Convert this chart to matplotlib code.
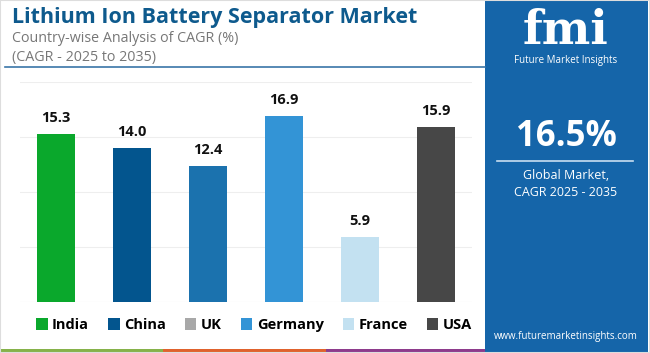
import matplotlib.pyplot as plt
from matplotlib.patches import Rectangle, Patch
from matplotlib.lines import Line2D

countries = ["India", "China", "UK", "Germany", "France", "USA"]
cagr = [15.3, 14.0, 12.4, 16.9, 5.9, 15.9]
bar_colors = ["#0aa82c", "#03558e", "#1b72ae", "#3394d6", "#c3e1f1", "#474747"]
legend_colors = ["#0aa82c", "#03558e", "#a8a8a8", "#3394d6", "#c3e1f1", "#474747"]

W, H = 650, 353
fig = plt.figure(figsize=(W / 100, H / 100), dpi=100)
plt.rcParams['font.family'] = ['Open Sans', 'DejaVu Sans']


def fx(x):
    return x / W


def fy(y):
    return 1 - y / H


# bar chart area
ax = fig.add_axes([fx(20), fy(302), fx(452), (302 - 82) / H])
ax.bar(range(len(cagr)), cagr, width=0.5, color=bar_colors, zorder=3)
for i, v in enumerate(cagr):
    ax.text(i, v + 0.8, f"{v:.1f}", ha="center", va="bottom",
            fontsize=10.5, fontweight="bold", color="#111111")
ax.set_xlim(-0.47, 5.47)
ax.set_ylim(0, 20)
ax.set_yticks([5, 10, 15, 20])
ax.grid(axis="y", color="#eeeeee", linewidth=0.8, zorder=0)
ax.tick_params(left=False, bottom=False, labelleft=False, labelbottom=False)
for s in ax.spines.values():
    s.set_visible(False)
ax.axhline(0, color="#e6e6e6", linewidth=0.8, zorder=2)

# legend
handles = [Patch(facecolor=c, edgecolor="none") for c in legend_colors]
fig.legend(handles, countries, loc="center", bbox_to_anchor=(fx(254), fy(325)),
           ncol=6, frameon=False, handlelength=0.8, handleheight=0.8,
           handletextpad=0.3, columnspacing=1.3,
           prop={"weight": "bold", "size": 10.5})

# titles
fig.text(fx(12), fy(17), "Lithium Ion Battery Separator Market", fontsize=15.5,
         fontweight="bold", color="#0e5a8d", va="center", ha="left")
fig.text(fx(12), fy(38), "Country-wise Analysis of CAGR (%)", fontsize=10.3,
         color="#777777", va="center", ha="left")
fig.text(fx(12), fy(57), "(CAGR - 2025 to 2035)", fontsize=10.3,
         color="#777777", va="center", ha="left")
fig.add_artist(Line2D([fx(5), fx(485)], [fy(67), fy(67)], color="#3a76a8", linewidth=1.2))

# bottom stripe
stripe = ["#86b24a", "#e0622d", "#8e3b8c"]
for i, c in enumerate(stripe):
    fig.add_artist(Rectangle((fx(163 * i), 0), fx(163), 4 / H, color=c, linewidth=0))

# right panel
fig.add_artist(Rectangle((fx(485), 0), fx(163), 1, color="#1565a9", linewidth=0))
fig.text(fx(566), fy(31), "fmi", fontsize=33, fontweight="bold", family="DejaVu Serif",
         color="white", ha="center", va="center")
fig.text(fx(566), fy(60), "Future Market Insights", fontsize=7, color="white",
         ha="center", va="center")
fig.text(fx(566), fy(137), "16.5%", fontsize=25, fontweight="bold", color="white",
         ha="center", va="center")
fig.add_artist(Line2D([fx(497), fx(633)], [fy(161), fy(161)], color="#c8def0", linewidth=1.2))
fig.text(fx(566), fy(176), "Global Market,", fontsize=9, color="white",
         ha="center", va="center")
fig.text(fx(566), fy(192), "CAGR 2025 - 2035", fontsize=9, color="white",
         ha="center", va="center")
fig.text(fx(566), fy(337), "www.futuremarketinsights.com", fontsize=7, color="white",
         ha="center", va="center")

fig.add_artist(Rectangle((0, 0), 1, 1, fill=False, edgecolor="#dddddd", linewidth=1.5))

fig.savefig("out.png", dpi=100)
